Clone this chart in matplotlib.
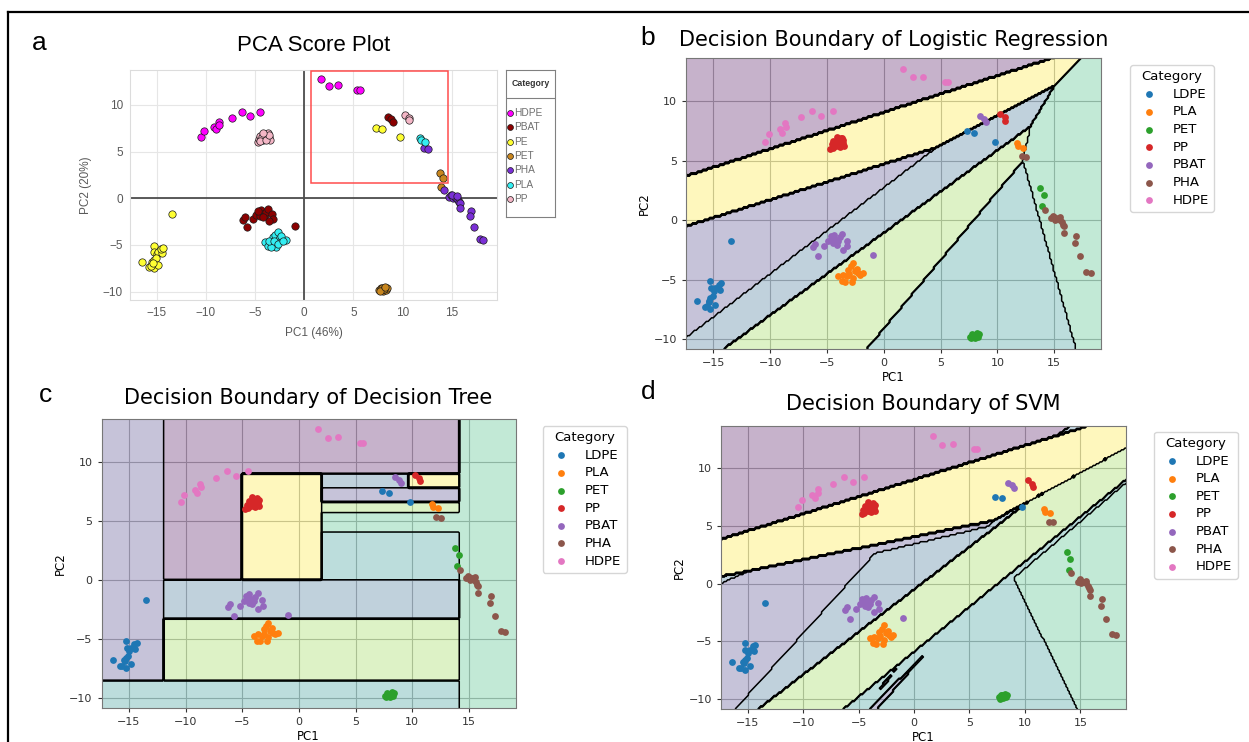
import numpy as np
import matplotlib
matplotlib.use("Agg")
import matplotlib.pyplot as plt
from matplotlib.path import Path
from matplotlib.patches import Rectangle
from matplotlib.lines import Line2D

# ---- scores (PC1, PC2) per polymer ----
ldpe_pc1 = [-16.45, -15.78, -15.28, -15.28, -15.22, -14.99, -14.84, -14.46, -14.55, -14.32,
            -15.43, -15.28, -15.05, -14.84, -15.58, -15.37, -13.47, 7.33, 7.95, 9.77]
ldpe_pc2 = [-6.79, -7.32, -7.50, -5.16, -5.72, -6.00, -5.72, -5.86, -5.44, -5.30,
            -6.79, -6.57, -6.42, -7.13, -7.27, -6.90, -1.72, 7.52, 7.38, 6.59]
pla_pc1 = [-4.00, -3.71, -3.27, -3.12, -2.92, -2.69, -2.54, -2.25, -1.87, -2.83,
           -3.42, -3.62, -3.04, -2.69, -2.39, -2.10, 11.73, 11.84, 12.27]
pla_pc2 = [-4.73, -5.16, -4.73, -4.17, -3.89, -3.61, -4.31, -4.45, -4.45, -5.21,
           -5.21, -4.59, -4.54, -4.87, -4.09, -4.59, 6.49, 6.21, 6.07]
pet_pc1 = [7.62, 7.80, 8.00, 8.15, 8.30, 8.39, 7.91, 8.09, 7.71, 8.24, 13.76, 14.09, 13.95]
pet_pc2 = [-9.80, -9.61, -9.89, -9.66, -9.83, -9.61, -9.66, -9.77, -9.95, -9.52, 2.71, 2.15, 1.16]
pp_pc1 = [-4.74, -4.59, -4.44, -4.20, -4.06, -3.91, -3.79, -3.62, -3.51, -3.71,
          -4.29, -4.50, -3.85, -3.56, -4.15, 10.26, 10.64, 10.70]
pp_pc2 = [6.03, 6.40, 6.68, 6.26, 6.82, 6.45, 6.88, 6.54, 6.26, 6.96,
          6.54, 6.11, 6.20, 6.76, 7.04, 8.93, 8.65, 8.37]
pbat_pc1 = [-6.26, -6.05, -5.76, -5.23, -4.88, -4.59, -4.38, -4.20, -4.00, -3.85, -3.65,
            -3.27, -3.21, -3.62, -4.44, -4.68, -4.15, -0.98, 8.50, 8.80, 8.98]
pbat_pc2 = [-2.28, -2.00, -3.04, -2.20, -1.77, -1.49, -1.21, -1.63, -1.77, -1.44, -1.13,
            -1.72, -2.20, -2.48, -1.92, -1.35, -2.05, -2.96, 8.74, 8.51, 8.23]
pha_pc1 = [12.13, 12.56, 14.20, 14.75, 14.93, 15.10, 15.30, 15.47, 15.65, 15.76,
           15.84, 15.84, 16.93, 16.85, 17.30, 17.84, 18.20, 15.00, 15.55]
pha_pc2 = [5.37, 5.29, 0.88, 0.18, 0.38, 0.04, 0.18, 0.04, -0.18, -0.38,
           -0.52, -1.08, -1.36, -1.92, -3.04, -4.36, -4.44, 0.30, 0.25]
hdpe_pc1 = [-10.44, -10.15, -9.18, -8.98, -8.69, -8.63, -7.31, -6.35, -5.53, -4.50,
            1.68, 2.53, 3.47, 5.37, 5.69]
hdpe_pc2 = [6.62, 7.24, 7.67, 7.38, 8.17, 7.86, 8.65, 9.21, 8.79, 9.21,
            12.77, 12.02, 12.10, 11.66, 11.61]

CATEGORIES = ["LDPE", "PLA", "PET", "PP", "PBAT", "PHA", "HDPE"]
TAB_COLORS = ["#1f77b4", "#ff7f0e", "#2ca02c", "#d62728", "#9467bd", "#8c564b", "#e377c2"]
PC1 = {"LDPE": ldpe_pc1, "PLA": pla_pc1, "PET": pet_pc1, "PP": pp_pc1,
       "PBAT": pbat_pc1, "PHA": pha_pc1, "HDPE": hdpe_pc1}
PC2 = {"LDPE": ldpe_pc2, "PLA": pla_pc2, "PET": pet_pc2, "PP": pp_pc2,
       "PBAT": pbat_pc2, "PHA": pha_pc2, "HDPE": hdpe_pc2}

# label order used by the classifier maps (alphabetical)
CLASS_ORDER = ["HDPE", "LDPE", "PBAT", "PET", "PHA", "PLA", "PP"]

# PCA panel: its own naming and colours
PCA_LABELS = ["HDPE", "PBAT", "PE", "PET", "PHA", "PLA", "PP"]
PCA_COLORS = ["#ff00ff", "#8b0000", "#ffff33", "#c8861e", "#7a2fd6", "#33eef2", "#f4b6c6"]
HIGHLIGHT = [0.66, 1.67, 14.63, 13.68]  # x0, y0, x1, y1

# ---- decision regions (vertices in PC space) ----
LOGREG_BACKGROUND = "HDPE"
logreg_regions = [
    ("PP", [(-19, 3.23), (15.9, 14.0), (17.73, 14.0), (15.0, 11.3), (4.64, 6.12), (-19, -0.98)]),
    ("LDPE", [(-19, -0.98), (4.64, 6.12), (-19, -11.04)]),
    ("PBAT", [(-19, -11.04), (4.64, 6.12), (15.0, 11.3), (12.9, 7.9), (-15.77, -12), (-19, -12)]),
    ("PLA", [(-15.77, -12), (12.9, 7.9), (12.25, 5.0), (-2.51, -12)]),
    ("PET", [(-2.51, -12), (12.25, 5.0), (17.26, -12)]),
    ("PHA", [(12.25, 5.0), (12.9, 7.9), (15.0, 11.3), (17.73, 14.0), (21, 14.0), (21, -12), (17.26, -12)]),
]

TREE_BACKGROUND = "PHA"
tree_leaves = [  # class, x0, x1, y0, y1
    ("LDPE", -30, -12.0, -8.5, 30),
    ("PET", -30, 14.15, -30, -8.5),
    ("HDPE", -12.0, 14.15, 0.0, 30),
    ("PBAT", -12.0, 14.15, -3.3, 0.0),
    ("PLA", -12.0, 14.15, -8.5, -3.3),
    ("PP", -5.1, 1.96, 0.0, 9.1),
    ("PBAT", 1.96, 9.66, 7.89, 9.1),
    ("PP", 9.66, 14.15, 7.89, 9.1),
    ("LDPE", 1.96, 14.15, 6.56, 7.89),
    ("PLA", 1.96, 14.15, 5.72, 6.56),
    ("PHA", 1.96, 14.15, 4.03, 5.72),
    ("PET", 1.96, 14.15, 0.0, 4.03),
]

SVM_BACKGROUND = "HDPE"
svm_regions = [
    ("PP", [(-19, 3.38), (17.6, 14.2), (21, 14.2), (21, 12.73), (7.15, 5.46), (-19, 0.30)]),
    ("PBAT", [(12.9, 12.81), (14.9, 14.2), (17.6, 14.2)]),
    ("LDPE", [(-19, 0.30), (7.15, 5.46), (6.7, 4.95), (-3.52, 2.63), (-17.22, -12), (-19, -12)]),
    ("PBAT", [(-19, -0.63), (-14.8, 1.12), (-19, 0.30)]),
    ("PBAT", [(-17.22, -12), (-3.52, 2.63), (6.7, 4.95), (7.15, 5.46), (10.4, 7.15), (-15.62, -12)]),
    ("PLA", [(-15.62, -12), (10.4, 7.15), (21, 12.73), (21, 10.46), (-7.85, -12)]),
    ("PET", [(-7.85, -12), (21, 10.46), (21, 10.23), (8.99, 0.48), (15.29, -12)]),
    ("PHA", [(8.99, 0.48), (21, 10.23), (21, -12), (15.29, -12)]),
    ("LDPE", [(-4.73, -11.5), (1.14, -5.9), (-3.89, -11.5)]),
    ("LDPE", [(-3.37, -9.37), (-1.42, -7.05), (-2.5, -8.6)]),
]

XLIM = (-17.42, 19.12)
YLIM = (-10.85, 13.66)
STEP = 0.15  # mesh step of the decision maps

W, H = 1249, 742


def px_box(left, top, right, bottom):
    return [left / W, 1 - bottom / H, (right - left) / W, (bottom - top) / H]


gx = np.arange(XLIM[0], XLIM[1] + STEP, STEP)
gy = np.arange(YLIM[0], YLIM[1] + STEP, STEP)
xx, yy = np.meshgrid(gx, gy)
grid_pts = np.column_stack([xx.ravel(), yy.ravel()])


def label_map(background, regions):
    z = np.full(xx.size, CLASS_ORDER.index(background))
    for name, verts in regions:
        inside = Path(verts).contains_points(grid_pts)
        z[inside] = CLASS_ORDER.index(name)
    return z.reshape(xx.shape)


def rect(x0, x1, y0, y1):
    return [(x0, y0), (x1, y0), (x1, y1), (x0, y1)]


def boundary_panel(fig, pos, z, title, pad, legend_anchor):
    ax = fig.add_axes(pos)
    ax.grid(True, color="#b5b5b5", lw=0.8)
    ax.set_axisbelow(True)
    ax.contourf(xx, yy, z, levels=np.arange(-0.5, 7), cmap="viridis",
                norm=plt.Normalize(0, 6), alpha=0.3, zorder=1)
    ax.contour(xx, yy, z, levels=np.arange(0.5, 6), colors="k", linewidths=1.1, zorder=2)
    for cat, col in zip(CATEGORIES, TAB_COLORS):
        ax.scatter(PC1[cat], PC2[cat], s=24, c=col, linewidths=0, label=cat, zorder=3)
    ax.set_xlim(XLIM)
    ax.set_ylim(YLIM)
    ax.set_xticks([-15, -10, -5, 0, 5, 10, 15])
    ax.set_yticks([-10, -5, 0, 5, 10])
    ax.tick_params(labelsize=8, colors="#333333", length=3)
    for s in ax.spines.values():
        s.set_color("#777777")
    ax.set_xlabel("PC1", fontsize=8.5, labelpad=2)
    ax.set_ylabel("PC2", fontsize=8.5, labelpad=2)
    ax.set_title(title, fontsize=15, pad=pad)
    ax.legend(title="Category", loc="upper left", bbox_to_anchor=legend_anchor,
              borderaxespad=0, fontsize=9.5, title_fontsize=9.5, labelspacing=0.35,
              scatterpoints=1)
    return ax


fig = plt.figure(figsize=(W / 100, H / 100), dpi=100)

# ---- panel a: PCA score plot ----
afont = "Liberation Sans"
ax = fig.add_axes(px_box(130, 70, 497, 300))
for lab, col in zip(PCA_LABELS, PCA_COLORS):
    src = "LDPE" if lab == "PE" else lab
    ax.scatter(PC1[src], PC2[src], s=28, c=col, edgecolors="#1a1a1a", linewidths=0.5, zorder=3)
ax.axhline(0, color="#4d4d4d", lw=1.3, zorder=2)
ax.axvline(0, color="#4d4d4d", lw=1.3, zorder=2)
ax.add_patch(Rectangle((HIGHLIGHT[0], HIGHLIGHT[1]), HIGHLIGHT[2] - HIGHLIGHT[0],
                       HIGHLIGHT[3] - HIGHLIGHT[1], fill=False, ec="#ff4d4d", lw=1.1, zorder=4))
ax.set_xlim(-17.7, 19.6)
ax.set_ylim(-10.9, 13.75)
ax.set_xticks([-15, -10, -5, 0, 5, 10, 15])
ax.set_yticks([-10, -5, 0, 5, 10])
ax.grid(True, color="#e6e6e6", lw=0.8)
ax.set_axisbelow(True)
ax.tick_params(length=0, labelsize=8.5, colors="#595959", pad=5)
for t in ax.get_xticklabels() + ax.get_yticklabels():
    t.set_fontfamily(afont)
for s in ax.spines.values():
    s.set_color("#dcdcdc")
ax.set_xlabel("PC1 (46%)", fontsize=8.5, color="#595959", family=afont, labelpad=6)
ax.set_ylabel("PC2 (20%)", fontsize=8.5, color="#595959", family=afont, labelpad=8)
ax.set_title("PCA Score Plot", fontsize=16, family=afont, pad=14)

# legend box of panel a
lax = fig.add_axes(px_box(505.7, 70, 555, 217))
lax.set_xlim(0, 1)
lax.set_ylim(0, 1)
lax.set_xticks([])
lax.set_yticks([])
for s in lax.spines.values():
    s.set_color("#808080")
lax.text(0.5, 0.905, "Category", ha="center", va="center", fontsize=6.3,
         fontweight="bold", family=afont, color="#333333")
lax.axhline(0.81, color="#808080", lw=0.8)
for i, (lab, col) in enumerate(zip(PCA_LABELS, PCA_COLORS)):
    yv = (217 - (113 + 14.3 * i)) / 147
    lax.scatter([0.09], [yv], s=18, c=col, edgecolors="#1a1a1a", linewidths=0.5)
    lax.text(0.18, yv, lab, ha="left", va="center", fontsize=7.3, family=afont, color="#707070")

# ---- panels b, c, d ----
z_lr = label_map(LOGREG_BACKGROUND, logreg_regions)
z_tree = label_map(TREE_BACKGROUND, [(c, rect(x0, x1, y0, y1)) for c, x0, x1, y0, y1 in tree_leaves])
z_svm = label_map(SVM_BACKGROUND, svm_regions)

boundary_panel(fig, px_box(686, 58, 1101, 349), z_lr,
               "Decision Boundary of Logistic Regression", 9, (1.07, 0.976))
boundary_panel(fig, px_box(101.6, 419, 515.5, 708), z_tree,
               "Decision Boundary of Decision Tree", 11, (1.066, 0.976))
boundary_panel(fig, px_box(721, 425.7, 1126, 709), z_svm,
               "Decision Boundary of SVM", 11, (1.069, 0.979))

# panel letters
for letter, (px, py) in zip("abcd", [(39, 43), (648, 38), (46, 395), (648, 392)]):
    fig.text(px / W, 1 - py / H, letter, fontsize=19, family=afont, ha="center", va="center")

# border of the figure sheet
fig.add_artist(Line2D([8 / W, 8 / W], [0, 1 - 12 / H], color="k", lw=1.6, transform=fig.transFigure))
fig.add_artist(Line2D([8 / W, 1], [1 - 12 / H, 1 - 12 / H], color="k", lw=1.6, transform=fig.transFigure))

fig.savefig("out.png", dpi=100)
plt.close(fig)
